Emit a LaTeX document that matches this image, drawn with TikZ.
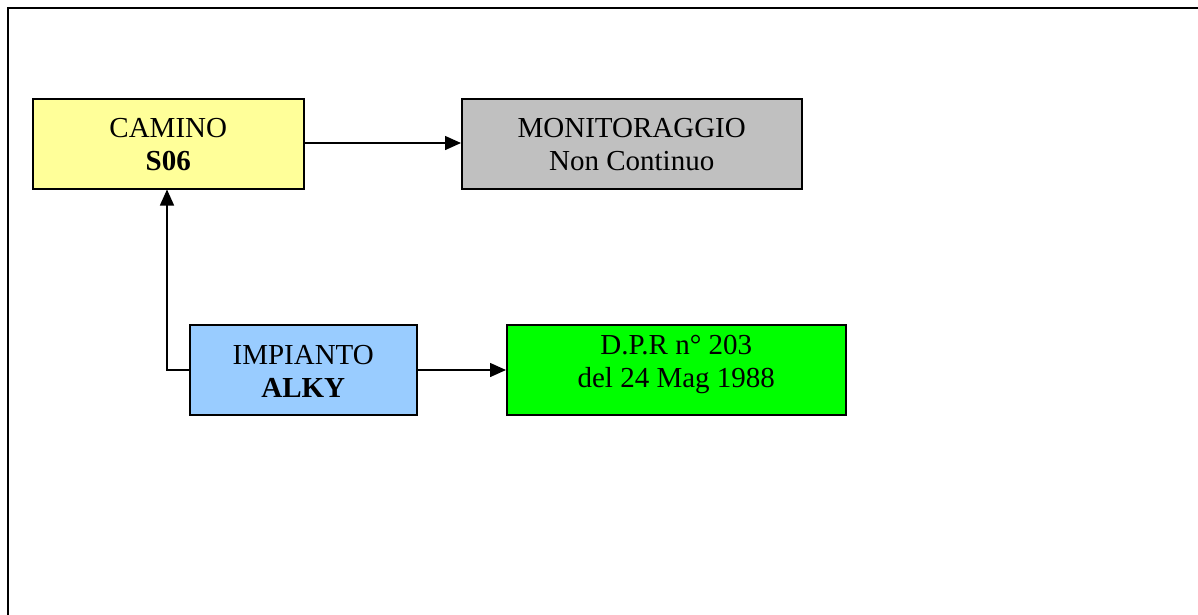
\documentclass[tikz,border=0pt]{standalone}
\usepackage{fontspec}
\setmainfont{Liberation Serif}
\usetikzlibrary{arrows.meta}
\begin{document}
\begin{tikzpicture}[x=1pt,y=-1pt,
  boxstyle/.style={draw=black, line width=1.5pt, rectangle, inner sep=0pt, anchor=north west},
  txt/.style={align=center, font=\fontsize{29}{33}\selectfont, inner sep=0pt},
  conn/.style={draw=black, line width=1.5pt, -{Triangle[length=16pt,width=14pt]}}]
\useasboundingbox (0,0) rectangle (1198,614);
\draw[line width=2pt] (8,620) -- (8,8) -- (1205,8);
\node[boxstyle, fill={rgb,255:red,255;green,255;blue,153}, minimum width=271pt, minimum height=90pt] (cam) at (32,98) {};
\node[boxstyle, fill={rgb,255:red,192;green,192;blue,192}, minimum width=340pt, minimum height=90pt] (mon) at (461,98) {};
\node[boxstyle, fill={rgb,255:red,153;green,204;blue,255}, minimum width=227pt, minimum height=90pt] (imp) at (189,324) {};
\node[boxstyle, fill={rgb,255:red,0;green,255;blue,0}, minimum width=339pt, minimum height=90pt] (dpr) at (506,324) {};
\node[txt] (camt) at ([yshift=-1pt]cam.center) {CAMINO\\\textbf{S06}};
\node[txt] (mont) at ([yshift=-1pt]mon.center) {MONITORAGGIO\\Non Continuo};
\node[txt] (impt) at ([yshift=-2pt]imp.center) {IMPIANTO\\\textbf{ALKY}};
\node[txt] (dprt) at ([yshift=5pt]dpr.center) {D.P.R n° 203\\del 24 Mag 1988};
\coordinate (bend) at (167,370);
\draw[conn] (cam.east |- 0,143) -- (mon.west |- 0,143);
\draw[conn] (imp.west |- bend) -- (bend) -- (bend |- cam.south);
\draw[conn] (imp.east |- bend) -- (dpr.west |- bend);
\end{tikzpicture}
\end{document}
